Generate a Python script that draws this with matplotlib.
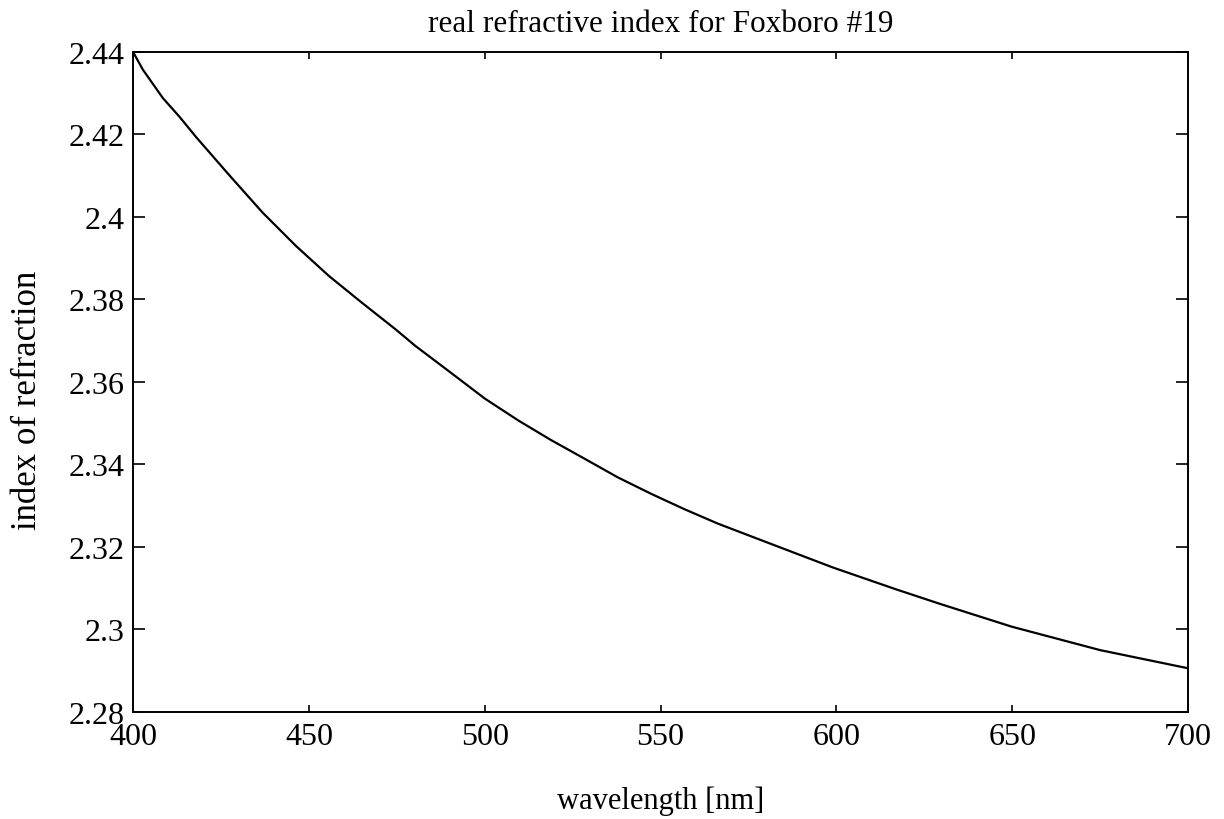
import matplotlib
matplotlib.use('Agg')
import matplotlib.pyplot as plt
from matplotlib.ticker import FuncFormatter

# valores (comprimento de onda em nm, índice real)
wavelength = [400, 402.8, 408.5, 413.2, 417.9, 427.4, 436.8, 446.3, 455.7, 465.1,
              474.6, 480.2, 490.6, 500.0, 509.5, 518.9, 528.4, 537.8, 547.3, 556.7,
              566.2, 575.4, 599.1, 617.1, 629.5, 649.8, 675.0, 700]
n_real = [2.4400, 2.4357, 2.4288, 2.4243, 2.4194, 2.4101, 2.4011, 2.3930, 2.3857, 2.3792,
          2.3728, 2.3688, 2.3621, 2.3560, 2.3507, 2.3459, 2.3414, 2.3369, 2.3329, 2.3292,
          2.3257, 2.3227, 2.3150, 2.3097, 2.3062, 2.3007, 2.2950, 2.2906]

x_ticks = [400, 450, 500, 550, 600, 650, 700]
y_ticks = [2.28, 2.30, 2.32, 2.34, 2.36, 2.38, 2.40, 2.42, 2.44]

plt.rcParams['font.family'] = ['Liberation Serif', 'DejaVu Serif']

fig = plt.figure(figsize=(12.24, 8.2), dpi=100)
ax = fig.add_axes([0.1087, 0.1305, 0.9706 - 0.1087, 0.9354 - 0.1305])

ax.plot(wavelength, n_real, color='black', linewidth=1.6)

ax.set_xlim(400, 700)
ax.set_ylim(2.28, 2.44)
ax.set_xticks(x_ticks)
ax.set_yticks(y_ticks)
ax.yaxis.set_major_formatter(FuncFormatter(lambda v, p: f'{v:g}'))
ax.tick_params(direction='in', width=1.2, top=True, right=True, labelsize=23)
ax.tick_params(axis='x', length=5, pad=7)
ax.tick_params(axis='y', length=8.5, pad=6)
for s in ax.spines.values():
    s.set_linewidth(1.4)

ax.set_title('real refractive index for Foxboro #19', fontsize=22.5, pad=15)
ax.set_xlabel('wavelength [nm]', fontsize=22)
ax.set_ylabel('index of refraction', fontsize=25)
ax.xaxis.set_label_coords(0.5, -0.112)
ax.yaxis.set_label_coords(-0.084, 0.473)

fig.savefig('out.png', dpi=100)
